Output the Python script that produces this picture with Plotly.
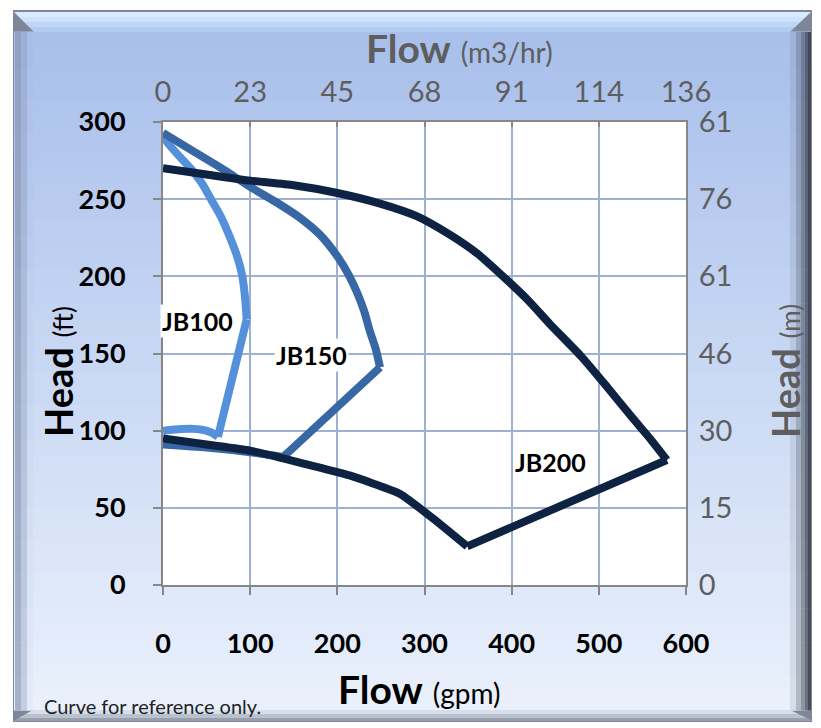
import plotly.graph_objects as go

# ---------------- data ----------------
gpm_ticks = [0, 100, 200, 300, 400, 500, 600]
m3hr_labels = ["0", "23", "45", "68", "91", "114", "136"]
ft_ticks = [0, 50, 100, 150, 200, 250, 300]
m_labels = ["0", "15", "30", "46", "61", "76", "61"]

jb100_flow = [0, 6, 20, 33, 45, 56, 67, 77, 85, 91, 94, 96, 63, 55, 40, 20, 0]
jb100_head = [291, 286, 277, 269, 260, 249, 238, 225, 213, 200, 187, 172, 96, 99, 101, 101, 100]

jb150_flow = [0, 35, 70, 100, 130, 157, 180, 200, 213, 223, 231, 237, 244, 249, 138, 100, 50, 0]
jb150_head = [293, 281, 269, 258, 248, 238, 227, 213, 201, 189, 177, 165, 153, 141, 83, 86, 89, 91]

jb200_flow = [0, 50, 100, 150, 200, 250, 291, 329, 360, 390, 418, 444, 480, 510, 539, 560, 578,
              349, 310, 272, 240, 214, 180, 138, 100, 50, 0]
jb200_head = [270, 266, 262, 259, 254, 247, 239, 227, 215, 200, 185, 169, 148, 128, 108, 94, 81,
              25, 43, 59, 66, 71, 76, 82, 87, 91, 95]

# indices of the sharp corners of each curve
jb100_corners = [11, 12]
jb150_corners = [13, 14]
jb200_corners = [16, 17]

series = [
    ("JB100", jb100_flow, jb100_head, jb100_corners, "#5591da", (40, 171)),
    ("JB150", jb150_flow, jb150_head, jb150_corners, "#3767a5", (170, 149)),
    ("JB200", jb200_flow, jb200_head, jb200_corners, "#0e2342", (445, 80)),
]

# ---------------- geometry ----------------
W, H = 821, 728
L, R, T, B = 163, 686, 122, 585


def fx(px):
    return (px - L) / (R - L)


def fy(py):
    return (B - py) / (B - T)


def hx(c):
    c = c.lstrip("#")
    return [int(c[i:i + 2], 16) for i in (0, 2, 4)]


def mix(c1, c2, t):
    a, b = hx(c1), hx(c2)
    return "#" + "".join(f"{round(a[i] + (b[i] - a[i]) * t):02x}" for i in range(3))


shapes = []


def rect(x0, y0, x1, y1, color):
    shapes.append(dict(type="rect", xref="paper", yref="paper",
                       x0=fx(x0), x1=fx(x1), y0=fy(y1), y1=fy(y0),
                       fillcolor=color, line_width=0, layer="below"))


def poly(pts, color):
    path = "M " + " L ".join(f"{fx(x):.5f},{fy(y):.5f}" for x, y in pts) + " Z"
    shapes.append(dict(type="path", xref="paper", yref="paper", path=path,
                       fillcolor=color, line_width=0, layer="below"))


TOPC, BOTC = "#a8bfeb", "#eaf1fc"
IX0, IX1, IY0, IY1 = 33, 790, 32, 710


def interior(y):
    return mix(TOPC, BOTC, min(max((y - IY0) / (IY1 - IY0), 0), 1))


# outer border
rect(13, 10, 812, 722, "#7e8698")
# interior gradient
n = 40
step = (IY1 - IY0) / n
for i in range(n):
    y0 = IY0 + i * step
    rect(14, y0 - 0.5, 811, y0 + step + 0.5, interior(y0 + step / 2))

rows = 20
# left bevel
for i in range(rows):
    y0 = IY0 + i * (IY1 - IY0) / rows
    y1 = y0 + (IY1 - IY0) / rows + 0.5
    base = interior((y0 + y1) / 2)
    for j, (xa, xb) in enumerate([(15, 21), (21, 27), (27, 33)]):
        rect(xa, y0, xb, y1, mix("#8290ae", base, 0.35 + 0.3 * j))
# right bevel
for i in range(rows):
    y0 = IY0 + i * (IY1 - IY0) / rows
    y1 = y0 + (IY1 - IY0) / rows + 0.5
    base = interior((y0 + y1) / 2)
    cols = [(790, 796), (796, 801), (801, 805), (805, 808), (808, 811)]
    for j, (xa, xb) in enumerate(cols):
        rect(xa, y0, xb, y1, mix(base, "#353a45", [0.1, 0.3, 0.5, 0.7, 0.9][j]))
# top bevel (trapezoid strips)
tb = [("#d9ecff", 12, 17), ("#cde3fd", 17, 22), ("#c0d6f7", 22, 27), ("#b3caf1", 27, 32)]
for c, ya, yb in tb:
    poly([(14 + (ya - 12), ya), (811 - (ya - 12) * 21 / 20, ya),
          (811 - (yb - 12) * 21 / 20, yb), (14 + (yb - 12), yb)], c)
# bottom bevel
bb = [("#d6deeb", 710, 714), ("#b9c1cf", 714, 718), ("#98a0ae", 718, 721)]
for c, ya, yb in bb:
    poly([(33 - (ya - 710) * 1.8, ya), (790 + (ya - 710) * 2.1, ya),
          (790 + (yb - 710) * 2.1, yb), (33 - (yb - 710) * 1.8, yb)], c)

# plot area
shapes.append(dict(type="rect", xref="paper", yref="paper", x0=0, x1=1, y0=0, y1=1,
                   fillcolor="white", line_width=0, layer="below"))

# ---------------- figure ----------------
fig = go.Figure()
for name, xs, ys, corners, col, _ in series:
    cuts = [0] + corners + [len(xs) - 1]
    for a, b in zip(cuts[:-1], cuts[1:]):
        fig.add_trace(go.Scatter(x=xs[a:b + 1], y=ys[a:b + 1], mode="lines", name=name,
                                 line=dict(color=col, width=8, shape="spline", smoothing=0.6),
                                 showlegend=False, hoverinfo="skip"))
fig.add_trace(go.Scatter(x=[0], y=[0], xaxis="x2", yaxis="y2", mode="markers",
                         marker=dict(opacity=0), showlegend=False, hoverinfo="skip"))

FONT = "Lato"
GRAY = "#5e5e5e"
AXC = "#878787"
GRIDC = "#9fb1d2"

annotations = []
for name, xs, ys, corners, col, (lx, ly) in series:
    annotations.append(dict(x=lx, y=ly, xref="x", yref="y", text=f"<b>{name}</b>",
                            showarrow=False, bgcolor="white",
                            xanchor="center", yanchor="middle",
                            font=dict(family=FONT, size=25, color="black")))


def ann(px, py, text, size, color, angle=0, xanchor="center"):
    annotations.append(dict(x=fx(px), y=fy(py), xref="paper", yref="paper",
                            showarrow=False, text=text, textangle=angle,
                            xanchor=xanchor, yanchor="middle",
                            font=dict(family=FONT, size=size, color=color)))


ann(459, 48, "<b>Flow</b> <span style='font-size:28px'>(m3/hr)</span>", 39, GRAY)
ann(419, 689, "<b>Flow</b> <span style='font-size:28px'>(gpm)</span>", 39, "black")
ann(58, 372, "<b>Head</b> <span style='font-size:26px'>(ft)</span>", 38, "black", -90)
ann(785, 371, "<b>Head</b> <span style='font-size:26px'>(m)</span>", 38, GRAY, -90)
ann(42, 706, "Curve for reference only.", 20, "#222222", 0, "left")

fig.update_layout(
    width=W, height=H,
    margin=dict(l=L, r=W - R, t=T, b=H - B, pad=0),
    paper_bgcolor="white", plot_bgcolor="white",
    shapes=shapes, annotations=annotations,
    xaxis=dict(range=[0, 600], tickvals=gpm_ticks, showgrid=True, gridcolor=GRIDC,
               gridwidth=2, showline=True, linecolor=AXC, linewidth=2, zeroline=False,
               ticks="outside", ticklen=8, tickwidth=2, tickcolor=AXC, automargin=False,
               tickfont=dict(family=FONT, size=27, color="black", weight="bold"),
               ticklabelstandoff=26),
    yaxis=dict(range=[0, 300], tickvals=ft_ticks, showgrid=True, gridcolor=GRIDC,
               gridwidth=2, showline=True, linecolor=AXC, linewidth=2, zeroline=False,
               ticks="outside", ticklen=8, tickwidth=2, tickcolor=AXC, automargin=False,
               tickfont=dict(family=FONT, size=27, color="black", weight="bold"),
               ticklabelstandoff=22),
    xaxis2=dict(range=[0, 600], overlaying="x", side="top", tickvals=gpm_ticks,
                ticktext=m3hr_labels, showgrid=False, zeroline=False, showline=True,
                linecolor=AXC, linewidth=2, ticks="inside", ticklen=5, tickwidth=2,
                tickcolor=AXC, tickfont=dict(family=FONT, size=29, color=GRAY),
                ticklabelstandoff=6, automargin=False),
    yaxis2=dict(range=[0, 300], overlaying="y", side="right", tickvals=ft_ticks,
                ticktext=m_labels, showgrid=False, zeroline=False, showline=True,
                linecolor=AXC, linewidth=2, ticks="",
                tickfont=dict(family=FONT, size=29, color=GRAY),
                ticklabelstandoff=5, automargin=False),
)

fig.write_html("out.html", config={"displayModeBar": False},
               post_script="document.body.style.margin='0';")
